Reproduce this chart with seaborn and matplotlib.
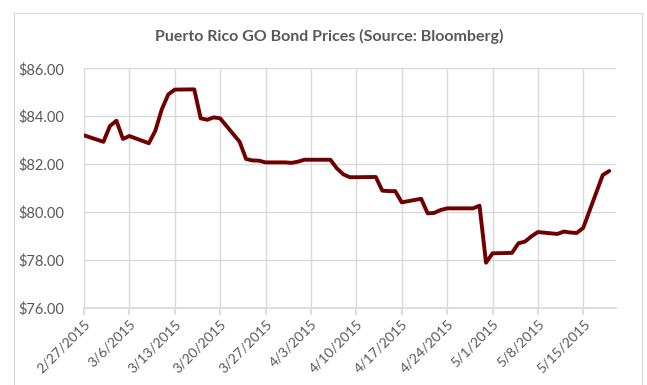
import matplotlib
matplotlib.use("Agg")
import matplotlib.pyplot as plt
import matplotlib.patches as mpatches
import seaborn as sns
import pandas as pd

dates = ["2015-02-27",
         "2015-03-02", "2015-03-03", "2015-03-04", "2015-03-05", "2015-03-06",
         "2015-03-09", "2015-03-10", "2015-03-11", "2015-03-12", "2015-03-13",
         "2015-03-16", "2015-03-17", "2015-03-18", "2015-03-19", "2015-03-20",
         "2015-03-23", "2015-03-24", "2015-03-25", "2015-03-26", "2015-03-27",
         "2015-03-30", "2015-03-31", "2015-04-01", "2015-04-02", "2015-04-03",
         "2015-04-06", "2015-04-07", "2015-04-08", "2015-04-09", "2015-04-10",
         "2015-04-13", "2015-04-14", "2015-04-15", "2015-04-16", "2015-04-17",
         "2015-04-20", "2015-04-21", "2015-04-22", "2015-04-23", "2015-04-24",
         "2015-04-27", "2015-04-28", "2015-04-29", "2015-04-30", "2015-05-01",
         "2015-05-04", "2015-05-05", "2015-05-06", "2015-05-07", "2015-05-08",
         "2015-05-11", "2015-05-12", "2015-05-13", "2015-05-14", "2015-05-15",
         "2015-05-18", "2015-05-19"]
prices = [83.20,
          82.93, 83.59, 83.81, 83.05, 83.17,
          82.87, 83.39, 84.29, 84.91, 85.11,
          85.12, 83.91, 83.85, 83.95, 83.91,
          82.93, 82.21, 82.15, 82.14, 82.07,
          82.07, 82.05, 82.10, 82.18, 82.18,
          82.18, 81.82, 81.57, 81.45, 81.45,
          81.46, 80.89, 80.87, 80.87, 80.40,
          80.55, 79.94, 79.96, 80.08, 80.15,
          80.15, 80.15, 80.26, 77.88, 78.27,
          78.29, 78.69, 78.76, 78.98, 79.16,
          79.08, 79.18, 79.14, 79.12, 79.34,
          81.54, 81.71]
tick_dates = ["2015-02-27", "2015-03-06", "2015-03-13", "2015-03-20", "2015-03-27",
              "2015-04-03", "2015-04-10", "2015-04-17", "2015-04-24", "2015-05-01",
              "2015-05-08", "2015-05-15"]
tick_labels = ["2/27/2015", "3/6/2015", "3/13/2015", "3/20/2015", "3/27/2015",
               "4/3/2015", "4/10/2015", "4/17/2015", "4/24/2015", "5/1/2015",
               "5/8/2015", "5/15/2015"]
y_ticks = [76, 78, 80, 82, 84, 86]
title = "Puerto Rico GO Bond Prices (Source: Bloomberg)"

sns.set_theme(style="white")
plt.rcParams['font.family'] = ['Lato', 'DejaVu Sans']

df = pd.DataFrame({"date": pd.to_datetime(dates), "price": prices})

fig = plt.figure(figsize=(6.47, 3.85), dpi=100)
fig.patch.set_facecolor("white")
# chart border
fig.add_artist(mpatches.Rectangle((13.5/647, -0.05), (642 - 13.5)/647, 1.05 - 12.5/385,
                                  transform=fig.transFigure, fill=False,
                                  edgecolor="#d9d9d9", linewidth=0.9))

ax = fig.add_axes([84/647, 1 - 307.7/385, (615.7 - 84)/647, (307.7 - 68.3)/385])
sns.lineplot(data=df, x="date", y="price", ax=ax, color="#6e0000", linewidth=2.8)

ax.set_xlim(pd.Timestamp("2015-02-27"), pd.Timestamp("2015-05-20"))
ax.set_ylim(76, 86)
ax.set_yticks(y_ticks)
ax.set_yticklabels([f"${v:.2f}" for v in y_ticks], color="#595959", fontsize=10.5)
ax.set_xticks(pd.to_datetime(tick_dates))
ax.set_xticklabels(tick_labels, rotation=45, ha="right", rotation_mode="anchor",
                   color="#595959", fontsize=10)
ax.grid(True, color="#d9d9d9", linewidth=1.0)
ax.set_axisbelow(True)
for s in ["top", "right", "left"]:
    ax.spines[s].set_visible(False)
ax.spines["bottom"].set_color("#d9d9d9")
ax.tick_params(axis="x", which="major", length=5, color="#d9d9d9", direction="out",
               bottom=True, pad=2)
ax.tick_params(axis="y", length=0, pad=14)
ax.set_xlabel("")
ax.set_ylabel("")

fig.text(329/647, 1 - 36/385, title, ha="center", va="center", fontsize=11.5,
         fontweight="bold", color="#595959")

fig.savefig("out.png", dpi=100)
